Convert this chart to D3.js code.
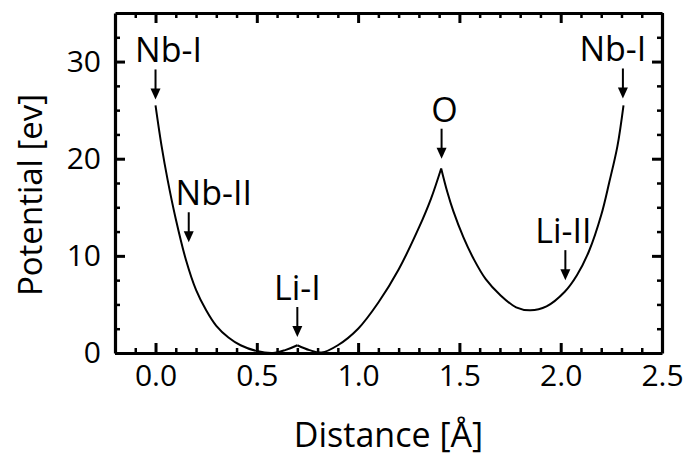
<!DOCTYPE html>
<html>
<head>
<meta charset="utf-8">
<script src="https://cdn.jsdelivr.net/npm/d3@7"></script>
<style>
  body { margin: 0; background: #fff; }
  text { font-family: "Open Sans", sans-serif; fill: #000; }
</style>
</head>
<body>
<svg id="chart" width="687" height="456"></svg>
<script>
// potential curve
const distance  = [0.00, 0.03, 0.06, 0.10, 0.15, 0.20, 0.25, 0.30, 0.36, 0.42, 0.50, 0.58, 0.64, 0.70,
                   0.76, 0.82, 0.90, 1.00, 1.10, 1.20, 1.30, 1.36, 1.41,
                   1.44, 1.47, 1.52, 1.57, 1.63, 1.70, 1.78, 1.85, 1.93, 2.02, 2.08, 2.14, 2.20, 2.24, 2.28, 2.31];
const potential = [25.5, 21.3, 17.8, 13.8, 9.6, 6.5, 4.4, 2.8, 1.6, 0.8, 0.2, 0.0, 0.3, 0.8,
                   0.3, 0.05, 0.8, 2.5, 5.2, 8.6, 12.9, 15.9, 19.0,
                   16.6, 14.6, 11.9, 9.7, 7.6, 6.0, 4.7, 4.4, 4.8, 6.3, 8.0, 10.5, 14.2, 17.6, 21.3, 25.5];
// indices where the curve has a cusp
const cusps = [13, 22];

// site annotations (arrow tip positions in data units)
const siteNames = ["Nb-I", "Nb-II", "Li-I", "O", "Li-II", "Nb-I"];
const siteDist  = [0.0, 0.164, 0.70, 1.412, 2.023, 2.307];
const sitePot   = [26.1, 11.4, 1.65, 20.0, 7.5, 26.2];

const xTicks = [0.0, 0.5, 1.0, 1.5, 2.0, 2.5];
const yTicks = [0, 10, 20, 30];

const W = 687, H = 456;
const margin = {top: 13, right: 25, bottom: 103, left: 115};
const iw = W - margin.left - margin.right,
      ih = H - margin.top - margin.bottom;

const svg = d3.select("#chart");
const g = svg.append("g").attr("transform", `translate(${margin.left},${margin.top})`);

let x = d3.scaleLinear().domain([-0.2, 2.5]).range([0, iw]);
let y = d3.scaleLinear().domain([0, 35]).range([ih, 0]);

let xMinor = d3.range(-1, 25).map(d => d / 10).filter(d => Math.round(d * 10) % 5 !== 0);
let yMinor = d3.range(1, 14).map(d => d * 2.5).filter(d => d % 10 !== 0);

function styleAxis(sel, fs) {
    sel.select(".domain").attr("stroke", "#000").attr("stroke-width", 3.2);
    sel.selectAll(".tick line").attr("stroke", "#000").attr("stroke-width", 3);
    sel.selectAll(".tick text").style("font-size", fs + "px");
}

// major ticks, inward
g.append("g").attr("transform", `translate(0,${ih})`)
    .call(d3.axisBottom(x).tickValues(xTicks).tickFormat(d3.format(".1f"))
        .tickSizeInner(-10).tickSizeOuter(0).tickPadding(12))
    .call(s => styleAxis(s, 30));
g.append("g")
    .call(d3.axisTop(x).tickValues(xTicks).tickFormat("")
        .tickSizeInner(-10).tickSizeOuter(0))
    .call(s => styleAxis(s, 30));
g.append("g")
    .call(d3.axisLeft(y).tickValues(yTicks)
        .tickSizeInner(-10).tickSizeOuter(0).tickPadding(14))
    .call(s => styleAxis(s, 30));
g.append("g").attr("transform", `translate(${iw},0)`)
    .call(d3.axisRight(y).tickValues(yTicks).tickFormat("")
        .tickSizeInner(-10).tickSizeOuter(0))
    .call(s => styleAxis(s, 30));

// minor ticks
function minor(axis, tr) {
    let a = g.append("g");
    if (tr) a.attr("transform", tr);
    a.call(axis.tickFormat("").tickSizeInner(-5).tickSizeOuter(0));
    a.select(".domain").remove();
    a.selectAll(".tick line").attr("stroke", "#000").attr("stroke-width", 2.5);
}
minor(d3.axisBottom(x).tickValues(xMinor), `translate(0,${ih})`);
minor(d3.axisTop(x).tickValues(xMinor));
minor(d3.axisLeft(y).tickValues(yMinor));
minor(d3.axisRight(y).tickValues(yMinor), `translate(${iw},0)`);

// curve, drawn in pieces split at the cusps
let pts = distance.map((d, i) => [d, potential[i]]);
let bounds = [0, ...cusps, pts.length - 1];
let line = d3.line().x(d => x(d[0])).y(d => y(d[1])).curve(d3.curveCatmullRom.alpha(0.5));
for (let k = 0; k < bounds.length - 1; k++) {
    g.append("path")
        .datum(pts.slice(bounds[k], bounds[k + 1] + 1))
        .attr("d", line)
        .attr("fill", "none")
        .attr("stroke", "#000")
        .attr("stroke-width", 2);
}

// annotations
const labelDx = [13, 25, 0, 3, -2, -10];
const arrowLen = 30, headLen = 11, headW = 5;
siteNames.forEach((name, i) => {
    let ax = x(siteDist[i]), tip = y(sitePot[i]);
    g.append("line")
        .attr("x1", ax).attr("x2", ax)
        .attr("y1", tip - arrowLen).attr("y2", tip - headLen + 1)
        .attr("stroke", "#000").attr("stroke-width", 2);
    g.append("path")
        .attr("d", `M${ax},${tip} L${ax - headW},${tip - headLen} L${ax + headW},${tip - headLen} Z`)
        .attr("fill", "#000");
    g.append("text")
        .attr("x", ax + labelDx[i])
        .attr("y", tip - arrowLen - 7)
        .attr("text-anchor", "middle")
        .style("font-size", "34px")
        .text(name);
});

// axis titles
svg.append("text")
    .attr("x", margin.left + iw / 2)
    .attr("y", 447)
    .attr("text-anchor", "middle")
    .style("font-size", "34px")
    .text("Distance [Å]");

svg.append("text")
    .attr("transform", `translate(42,${margin.top + ih / 2 + 12}) rotate(-90)`)
    .attr("text-anchor", "middle")
    .style("font-size", "33px")
    .text("Potential [ev]");
</script>
</body>
</html>
